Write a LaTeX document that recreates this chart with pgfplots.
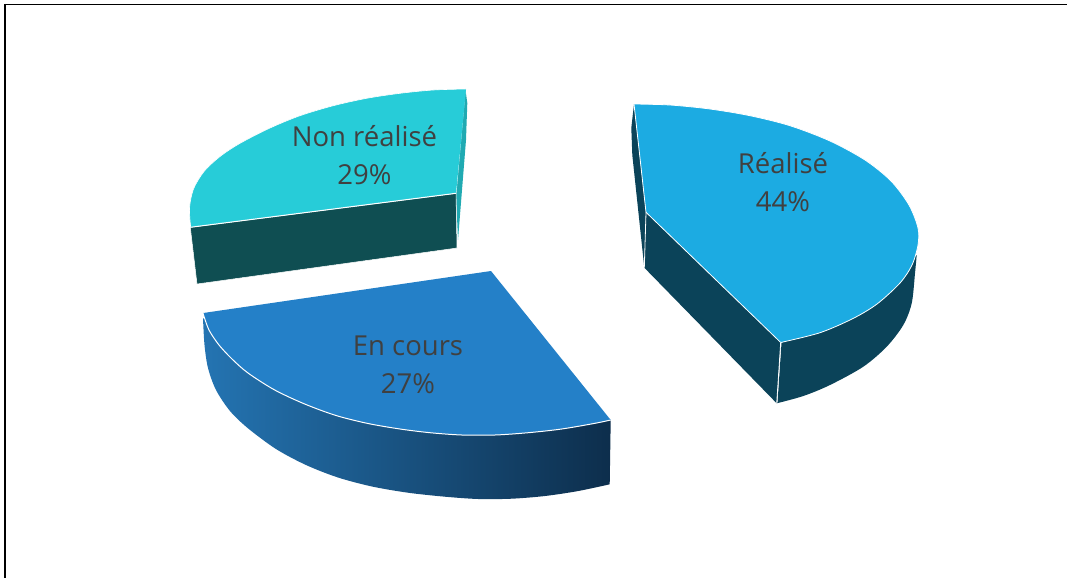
\documentclass[border=0pt]{standalone}
\usepackage{fontspec}
\setmainfont{Open Sans}
\usepackage{pgfplots}
\pgfplotsset{compat=1.18}
\definecolor{rtop}{RGB}{28,171,226}
\definecolor{rside}{RGB}{11,67,89}
\definecolor{ntop}{RGB}{39,204,216}
\definecolor{nside}{RGB}{15,78,82}
\definecolor{nslim}{RGB}{32,170,178}
\definecolor{etop}{RGB}{36,128,200}
\definecolor{eleft}{RGB}{36,116,178}
\definecolor{eright}{RGB}{13,46,76}
\definecolor{ltxt}{RGB}{64,64,64}
\tikzset{lab/.style={font=\fontsize{27.5}{38}\selectfont,text=ltxt,align=center}}
\begin{document}
\begin{tikzpicture}
\begin{axis}[
  width=1067pt,height=578pt,scale only axis,
  xmin=0,xmax=1067,ymin=0,ymax=578,y dir=reverse,
  axis lines=none,clip=true,no markers,
  every axis plot/.append style={line join=round},
]
% page
\addplot[fill=white,draw=none] coordinates {(0,0)(1067,0)(1067,578)(0,578)} --cycle;
% frame
\addplot[black,line width=1.3pt] coordinates {(1067,4.7)(5,4.7)};
\addplot[black,line width=2.1pt] coordinates {(5.3,4)(5.3,578)};
% Non realise: sides
\addplot[fill=nslim,draw=none] coordinates {(465.3,88.7)(467.3,103)(466,140)(458,240)(456,193.3)} --cycle;
\addplot[fill=nside,draw=white,line width=0.5pt] coordinates {(190.3,227.3)(456,193.3)(457,248)(197,284)} --cycle;
\addplot[white,line width=0.8pt] coordinates {(456,193.3)(465.3,88.7)};
% Non realise: top
\addplot[fill=ntop,draw=none,smooth] coordinates {
(466,89)(433.3,90)(400,93.3)(366.7,98.3)(333.3,105.7)(300,115.7)(270,128)(240,143.3)(220,156.5)(204,171.5)(193.5,189)(189.5,208)(190.7,227.3)} --cycle;
\addplot[fill=ntop,draw=none] coordinates {(466,89)(300,120)(215,165)(190.7,227.3)(456,193.3)} --cycle;
\addplot[white,line width=0.6pt,smooth] coordinates {
(466,89)(433.3,90)(400,93.3)(366.7,98.3)(333.3,105.7)(300,115.7)(270,128)(240,143.3)(220,156.5)(204,171.5)(193.5,189)(189.5,208)(190.7,227.3)};
\addplot[white,line width=1pt] coordinates {(190.3,227.3)(456,193.3)};
% En cours: side
\addplot[left color=eleft,right color=eright,draw=none,smooth] coordinates {
(203,318.3)(204.5,345)(208,368)(216,390)(230,411)(248,428.3)(276,449)(306,465)(338,477.5)(372,486.5)(408,492.7)(445,496.7)(478.3,499)(511.7,498.7)(545,496)(578.3,491)(609.7,484.3)} -- (axis cs:610.7,420) --cycle;
% En cours: top
\addplot[fill=etop,draw=none,smooth] coordinates {
(203,313.3)(209,330)(219,345)(232,359)(248,373)(274.7,390)(304.7,404)(336,415.5)(368,423.5)(400,429)(430,432.7)(461.7,435)(495,435)(528.3,432.7)(561.7,429)(595,423.3)(610.7,420)} --cycle;
\addplot[fill=etop,draw=none] coordinates {(491,271)(203.3,313)(304,400)(461,430)(610.7,420)} --cycle;
\addplot[white,line width=1pt,smooth] coordinates {
(203,313.3)(209,330)(219,345)(232,359)(248,373)(274.7,390)(304.7,404)(336,415.5)(368,423.5)(400,429)(430,432.7)(461.7,435)(495,435)(528.3,432.7)(561.7,429)(595,423.3)(610.7,420)};
% Realise: sides
\addplot[fill=rside,draw=none] coordinates {(634,104)(631.3,128)(632.3,155)(644.3,267.7)(646,212.3)} --cycle;
\addplot[fill=rside,draw=none] coordinates {(646,212.3)(780.7,342.3)(776.7,403.3)(644.3,267.7)} --cycle;
\addplot[fill=rside,draw=none,smooth] coordinates {(916.7,255)(915,273.3)(911.7,303.3)(903.3,325)(886.7,346.7)(863.3,366.7)(830,385)(803.3,396)(776.7,403.3)} --cycle;
\addplot[fill=rside,draw=none] coordinates {(916,256)(860,355)(777.5,402.5)(781.5,343)} --cycle;
\addplot[white,line width=0.8pt] coordinates {(646,212.3)(644.3,267.7)};
\addplot[white,line width=0.8pt] coordinates {(780.7,342.3)(776.7,403.3)};
% Realise: top
\addplot[fill=rtop,draw=none,smooth] coordinates {
(634,104)(670,105)(710,109)(750,115.7)(790,125.7)(830,141)(865,160)(891,181)(909,205)(918,228)(918,245)(912,265)(900,283)(877,304)(853,318.5)(820,332.7)(780.7,342.5)} --cycle;
\addplot[fill=rtop,draw=none] coordinates {(634,104)(790,130)(880,185)(905,240)(860,310)(780.7,342.5)(646,212.3)} --cycle;
\addplot[white,line width=0.8pt,smooth] coordinates {
(634,104)(670,105)(710,109)(750,115.7)(790,125.7)(830,141)(865,160)(891,181)(909,205)(918,228)(918,245)(912,265)(900,283)(877,304)(853,318.5)(820,332.7)(780.7,342.5)};
\addplot[white,line width=0.8pt] coordinates {(780.7,342.5)(646,212.3)(634,104)};
% labels
\node[lab] at (axis cs:364.5,155) {Non réalisé\\29\%};
\node[lab] at (axis cs:408,364.5) {En cours\\27\%};
\node[lab] at (axis cs:783,182.5) {Réalisé\\44\%};
\end{axis}
\end{tikzpicture}
\end{document}
